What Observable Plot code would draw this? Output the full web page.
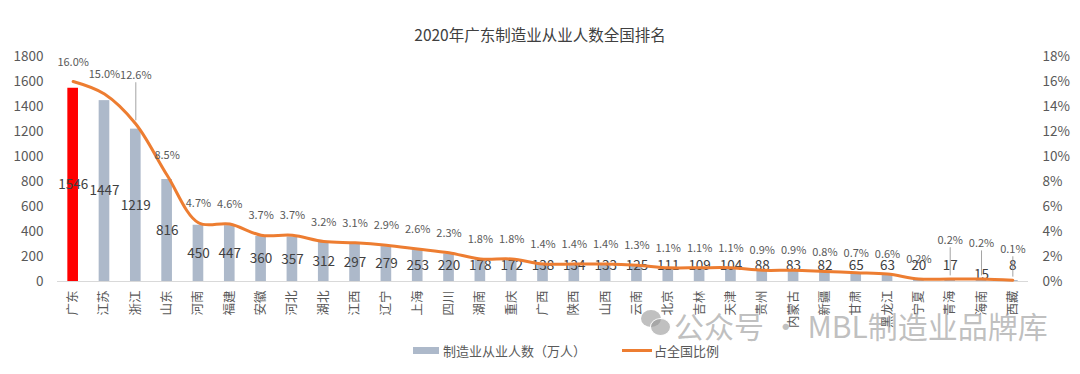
<!DOCTYPE html>
<html><head><meta charset="utf-8">
<script src="https://cdn.jsdelivr.net/npm/d3@7"></script>
<script src="https://cdn.jsdelivr.net/npm/@observablehq/plot@0.6"></script>
<style>
body{margin:0;background:#fff;font-family:"Noto Sans CJK SC","Noto Sans",sans-serif;}
#wrap{position:relative;width:1080px;height:374px;overflow:hidden;}
#title{position:absolute;left:0;top:22px;width:1080px;text-align:center;font-size:15.5px;color:#404040;line-height:24px;}
#chart{position:absolute;left:0;top:38px;}
#legend{position:absolute;left:0;top:339px;width:1080px;height:24px;font-size:13px;color:#595959;}
.lg{position:absolute;top:2px;display:flex;align-items:center;}
#wm{position:absolute;left:674px;top:305px;font-size:30px;line-height:40px;color:rgba(150,150,150,0.6);white-space:nowrap;}
.bub{position:absolute;border-radius:50%;background:rgba(150,150,150,0.6);}
</style></head>
<body><div id="wrap">
<div id="title">2020年广东制造业从业人数全国排名</div>
<div id="chart"></div>
<div id="legend">
 <div class="lg" style="left:413px"><span style="display:inline-block;width:26px;height:7px;background:#ADB9CA;margin-right:4px"></span>制造业从业人数（万人）</div>
 <div class="lg" style="left:622px"><span style="display:inline-block;width:30px;height:3px;background:#ED7D31;margin-right:2px"></span>占全国比例</div>
</div>
<div class="bub" style="left:641px;top:310px;width:20px;height:17px"></div>
<div class="bub" style="left:650px;top:318px;width:19px;height:16px;border:1px solid #fff"></div>
<div id="wm">公众号 · MBL制造业品牌库</div>
</div>
<script>
const provinces = ["广东","江苏","浙江","山东","河南","福建","安徽","河北","湖北","江西","辽宁","上海","四川","湖南","重庆","广西","陕西","山西","云南","北京","吉林","天津","贵州","内蒙古","新疆","甘肃","黑龙江","宁夏","青海","海南","西藏"];
const workers = [1546,1447,1219,816,450,447,360,357,312,297,279,253,220,178,172,138,134,133,125,111,109,104,88,83,82,65,63,20,17,15,8];
const shares = [16.0,15.0,12.6,8.5,4.7,4.6,3.7,3.7,3.2,3.1,2.9,2.6,2.3,1.8,1.8,1.4,1.4,1.4,1.3,1.1,1.1,1.1,0.9,0.9,0.8,0.7,0.6,0.2,0.2,0.2,0.1];
const yTicks = [0,200,400,600,800,1000,1200,1400,1600,1800];

// manual label placement (as in the original chart): percentage labels moved away from crowded spots, with leader lines
const movedLabel = {"浙江":1650, "青海":330, "海南":305, "西藏":258};
const lowLabel = {"海南":55};

const data = provinces.map((p,i)=>({p, v:workers[i], s:shares[i], sv:shares[i]*100}));
const pctLabelY = d => movedLabel[d.p] !== undefined ? movedLabel[d.p] : d.sv + 156;
const barLabelY = d => lowLabel[d.p] !== undefined ? lowLabel[d.p] : Math.max(d.v/2, 126);
const leaders = data.filter(d => movedLabel[d.p] !== undefined);

const chart = Plot.plot({
  width:1080, height:295,
  marginTop:18, marginBottom:52, marginLeft:57, marginRight:52,
  style:{fontFamily:'"Noto Sans CJK SC","Noto Sans",sans-serif', color:"#595959", background:"transparent"},
  x:{type:"band", domain:provinces, paddingInner:0.66, paddingOuter:0.33, round:false},
  y:{domain:[0,1800]},
  marks:[
    Plot.ruleY([0],{stroke:"#D9D9D9", strokeWidth:1.2}),
    Plot.barY(data,{x:"p", y:"v", fill:(d,i)=> i===0 ? "#FF0000" : "#ADB9CA"}),
    Plot.text(data,{x:"p", y:barLabelY, text:d=>String(d.v), fontSize:13.5, fill:"#404040"}),
    Plot.ruleX(leaders,{x:"p", y1:d=>d.sv + 25, y2:d=>pctLabelY(d) - 60, stroke:"#8C8C8C", strokeWidth:0.8}),
    Plot.line(data,{x:"p", y:"sv", stroke:"#ED7D31", strokeWidth:3, curve:"catmull-rom"}),
    Plot.text(data,{x:"p", y:pctLabelY, text:d=>d.s.toFixed(1)+"%", fontSize:11, fill:"#595959"}),
    Plot.axisY(yTicks,{anchor:"left", tickSize:0, tickPadding:14, fontSize:13.5, label:null, tickFormat:d=>String(d)}),
    Plot.axisY(yTicks,{anchor:"right", tickSize:0, tickPadding:14, fontSize:13.5, label:null, tickFormat:d=>(d/100)+"%"}),
    Plot.axisX({tickRotate:-90, tickSize:0, tickPadding:9, fontSize:12.5, label:null})
  ]
});
document.getElementById("chart").appendChild(chart);
</script>
</body></html>
